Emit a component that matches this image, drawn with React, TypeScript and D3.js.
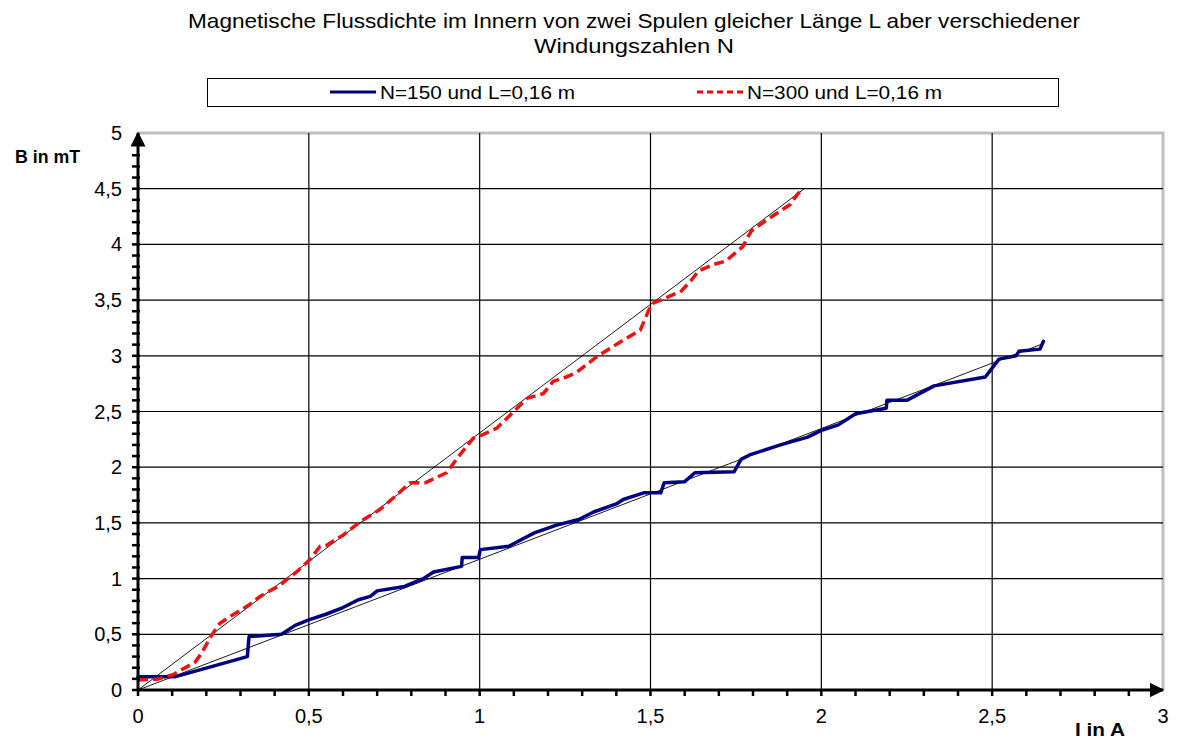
import React, { useEffect, useRef } from 'react';
import * as d3 from 'd3';

// Messwerte: Strom I in A, Flussdichte B in mT
const currentN150 = [0, 0.11, 0.32, 0.325, 0.42, 0.46, 0.5, 0.55, 0.6, 0.645, 0.68, 0.7, 0.78, 0.835, 0.865, 0.947, 0.949, 0.997, 1.002, 1.085, 1.16, 1.225, 1.29, 1.335, 1.4, 1.42, 1.48, 1.53, 1.54, 1.6, 1.63, 1.745, 1.765, 1.79, 1.88, 1.96, 2.0, 2.05, 2.1, 2.19, 2.192, 2.25, 2.33, 2.48, 2.52, 2.57, 2.578, 2.64, 2.65];
const fluxN150 = [0.12, 0.12, 0.3, 0.48, 0.5, 0.58, 0.63, 0.68, 0.74, 0.81, 0.84, 0.89, 0.93, 1.0, 1.06, 1.11, 1.19, 1.19, 1.26, 1.29, 1.41, 1.48, 1.53, 1.6, 1.67, 1.71, 1.77, 1.77, 1.86, 1.87, 1.95, 1.96, 2.07, 2.11, 2.2, 2.27, 2.33, 2.38, 2.48, 2.53, 2.6, 2.6, 2.73, 2.81, 2.97, 3.0, 3.04, 3.06, 3.13];

const currentN300 = [0, 0.055, 0.104, 0.167, 0.186, 0.215, 0.24, 0.27, 0.323, 0.357, 0.415, 0.435, 0.464, 0.503, 0.533, 0.552, 0.6, 0.65, 0.708, 0.757, 0.796, 0.84, 0.903, 0.942, 0.981, 1.0, 1.05, 1.077, 1.1, 1.14, 1.186, 1.215, 1.254, 1.283, 1.342, 1.42, 1.47, 1.495, 1.505, 1.53, 1.59, 1.62, 1.64, 1.685, 1.72, 1.77, 1.795, 1.84, 1.88, 1.91, 1.93, 1.947];
const fluxN300 = [0.09, 0.096, 0.14, 0.25, 0.33, 0.49, 0.6, 0.66, 0.76, 0.84, 0.94, 0.99, 1.06, 1.17, 1.29, 1.3, 1.39, 1.51, 1.62, 1.75, 1.86, 1.86, 1.95, 2.11, 2.26, 2.28, 2.35, 2.43, 2.5, 2.62, 2.66, 2.77, 2.81, 2.85, 2.99, 3.14, 3.23, 3.41, 3.47, 3.5, 3.58, 3.68, 3.76, 3.82, 3.85, 3.98, 4.12, 4.22, 4.3, 4.36, 4.45, 4.5];

// Ausgleichsgeraden (Anfangs- und Endpunkt)
const trendN150 = [[0, 0], [2.65, 3.11]];
const trendN300 = [[0, 0], [1.95, 4.5]];

const xTicks = [0, 0.5, 1, 1.5, 2, 2.5, 3];
const yTicks = [0, 0.5, 1, 1.5, 2, 2.5, 3, 3.5, 4, 4.5, 5];
const seriesNames = ['N=150 und L=0,16 m', 'N=300 und L=0,16 m'];
const titleLines = ['Magnetische Flussdichte im Innern von zwei Spulen gleicher Länge L aber verschiedener', 'Windungszahlen N'];

const fmt = (v: number) => String(v).replace('.', ',');

export default function App() {
  const svgRef = useRef<SVGSVGElement>(null);

  useEffect(() => {
    if (!svgRef.current) return;
    const svg = d3.select(svgRef.current);
    svg.selectAll('*').remove();

    const width = 1189;
    const height = 746;
    svg.attr('width', width).attr('height', height)
      .style('font-family', '"Liberation Sans", Arial, sans-serif');

    svg.append('rect').attr('width', width).attr('height', height).attr('fill', '#fff');

    const x = d3.scaleLinear().domain([0, 3]).range([138, 1163]);
    const y = d3.scaleLinear().domain([0, 5]).range([690, 133]);

    // Titel
    titleLines.forEach((t, i) => {
      svg.append('text')
        .attr('x', 634).attr('y', 28 + i * 25)
        .attr('text-anchor', 'middle')
        .attr('font-size', 21)
        .attr('fill', '#000')
        .attr('textLength', i === 0 ? 892 : 200)
        .attr('lengthAdjust', 'spacingAndGlyphs')
        .text(t);
    });

    // Legende
    svg.append('rect')
      .attr('x', 207.5).attr('y', 78.5).attr('width', 851).attr('height', 28)
      .attr('fill', '#fff').attr('stroke', '#000').attr('stroke-width', 1);
    const legendX = [330, 697];
    seriesNames.forEach((name, i) => {
      svg.append('line')
        .attr('x1', legendX[i]).attr('x2', legendX[i] + 46)
        .attr('y1', 92).attr('y2', 92)
        .attr('stroke', i === 0 ? '#000080' : '#ff0000')
        .attr('stroke-width', 3)
        .attr('stroke-dasharray', i === 0 ? null : '6,4');
      svg.append('text')
        .attr('x', legendX[i] + 50).attr('y', 99)
        .attr('font-size', 19)
        .attr('textLength', 195)
        .attr('lengthAdjust', 'spacingAndGlyphs')
        .text(name);
    });

    // Rahmen der Zeichenfläche (grau oben und rechts)
    svg.append('path')
      .attr('d', `M${x(0)},${y(5)}H${x(3)}V${y(0)}`)
      .attr('fill', 'none').attr('stroke', '#c0c0c0').attr('stroke-width', 3);

    // Gitter
    svg.append('g').selectAll('line')
      .data(xTicks.filter(t => t > 0 && t < 3))
      .join('line')
      .attr('x1', d => x(d)).attr('x2', d => x(d))
      .attr('y1', y(5)).attr('y2', y(0))
      .attr('stroke', '#000').attr('stroke-width', 1.2);
    svg.append('g').selectAll('line')
      .data(yTicks.filter(t => t > 0 && t < 5))
      .join('line')
      .attr('x1', x(0)).attr('x2', x(3))
      .attr('y1', d => y(d)).attr('y2', d => y(d))
      .attr('stroke', '#000').attr('stroke-width', 1.2);

    // Ausgleichsgeraden
    const line = d3.line<number[]>().x(d => x(d[0])).y(d => y(d[1]));
    [trendN150, trendN300].forEach(tr => {
      svg.append('path').attr('d', line(tr)!)
        .attr('fill', 'none').attr('stroke', '#000').attr('stroke-width', 0.9);
    });

    // Messkurven
    const n150 = currentN150.map((c, i) => [c, fluxN150[i]]);
    const n300 = currentN300.map((c, i) => [c, fluxN300[i]]);
    svg.append('path').attr('d', line(n150)!)
      .attr('fill', 'none').attr('stroke', '#000080').attr('stroke-width', 3.5)
      .attr('stroke-linejoin', 'round').attr('stroke-linecap', 'round');
    svg.append('path').attr('d', line(n300)!)
      .attr('fill', 'none').attr('stroke', '#f01010').attr('stroke-width', 3.5)
      .attr('stroke-dasharray', '10,5')
      .attr('stroke-linejoin', 'round');

    // Achsen mit Pfeilen
    const defs = svg.append('defs');
    defs.append('marker')
      .attr('id', 'arrow')
      .attr('viewBox', '0 0 10 10')
      .attr('refX', 9).attr('refY', 5)
      .attr('markerWidth', 5).attr('markerHeight', 5)
      .attr('markerUnits', 'strokeWidth')
      .attr('orient', 'auto')
      .append('path').attr('d', 'M0,0L10,5L0,10Z').attr('fill', '#000');

    svg.append('line')
      .attr('x1', x(0)).attr('x2', x(3))
      .attr('y1', y(0)).attr('y2', y(0))
      .attr('stroke', '#000').attr('stroke-width', 3)
      .attr('marker-end', 'url(#arrow)');
    svg.append('line')
      .attr('x1', x(0)).attr('x2', x(0))
      .attr('y1', y(0)).attr('y2', y(5))
      .attr('stroke', '#000').attr('stroke-width', 3)
      .attr('marker-end', 'url(#arrow)');

    // Nebenstriche
    const xMinor = d3.range(0, 31).map(i => i / 10);
    svg.append('g').selectAll('line')
      .data(xMinor.filter(v => v < 2.95))
      .join('line')
      .attr('x1', d => x(d)).attr('x2', d => x(d))
      .attr('y1', y(0)).attr('y2', y(0) + 6)
      .attr('stroke', '#000').attr('stroke-width', 2.5);
    const yMinor = d3.range(0, 51).map(i => i / 10);
    svg.append('g').selectAll('line')
      .data(yMinor.filter(v => v < 4.9))
      .join('line')
      .attr('x1', x(0) - 6).attr('x2', x(0) + 2)
      .attr('y1', d => y(d)).attr('y2', d => y(d))
      .attr('stroke', '#000').attr('stroke-width', 2.5);

    // Beschriftung
    svg.append('g').selectAll('text')
      .data(xTicks)
      .join('text')
      .attr('x', d => x(d)).attr('y', 723)
      .attr('text-anchor', 'middle')
      .attr('font-size', 20)
      .text(d => fmt(d));
    svg.append('g').selectAll('text')
      .data(yTicks)
      .join('text')
      .attr('x', 122).attr('y', d => y(d) + 7)
      .attr('text-anchor', 'end')
      .attr('font-size', 20)
      .text(d => fmt(d));

    svg.append('text')
      .attr('x', 15).attr('y', 163)
      .attr('font-size', 19).attr('font-weight', 'bold')
      .attr('textLength', 65).attr('lengthAdjust', 'spacingAndGlyphs')
      .text('B in mT');
    svg.append('text')
      .attr('x', 1075).attr('y', 736)
      .attr('font-size', 19).attr('font-weight', 'bold')
      .attr('textLength', 50).attr('lengthAdjust', 'spacingAndGlyphs')
      .text('I in A');
  }, []);

  return (
    <div style={{ position: 'absolute', left: 0, top: 0 }}>
      <svg ref={svgRef} style={{ display: 'block' }} />
    </div>
  );
}
